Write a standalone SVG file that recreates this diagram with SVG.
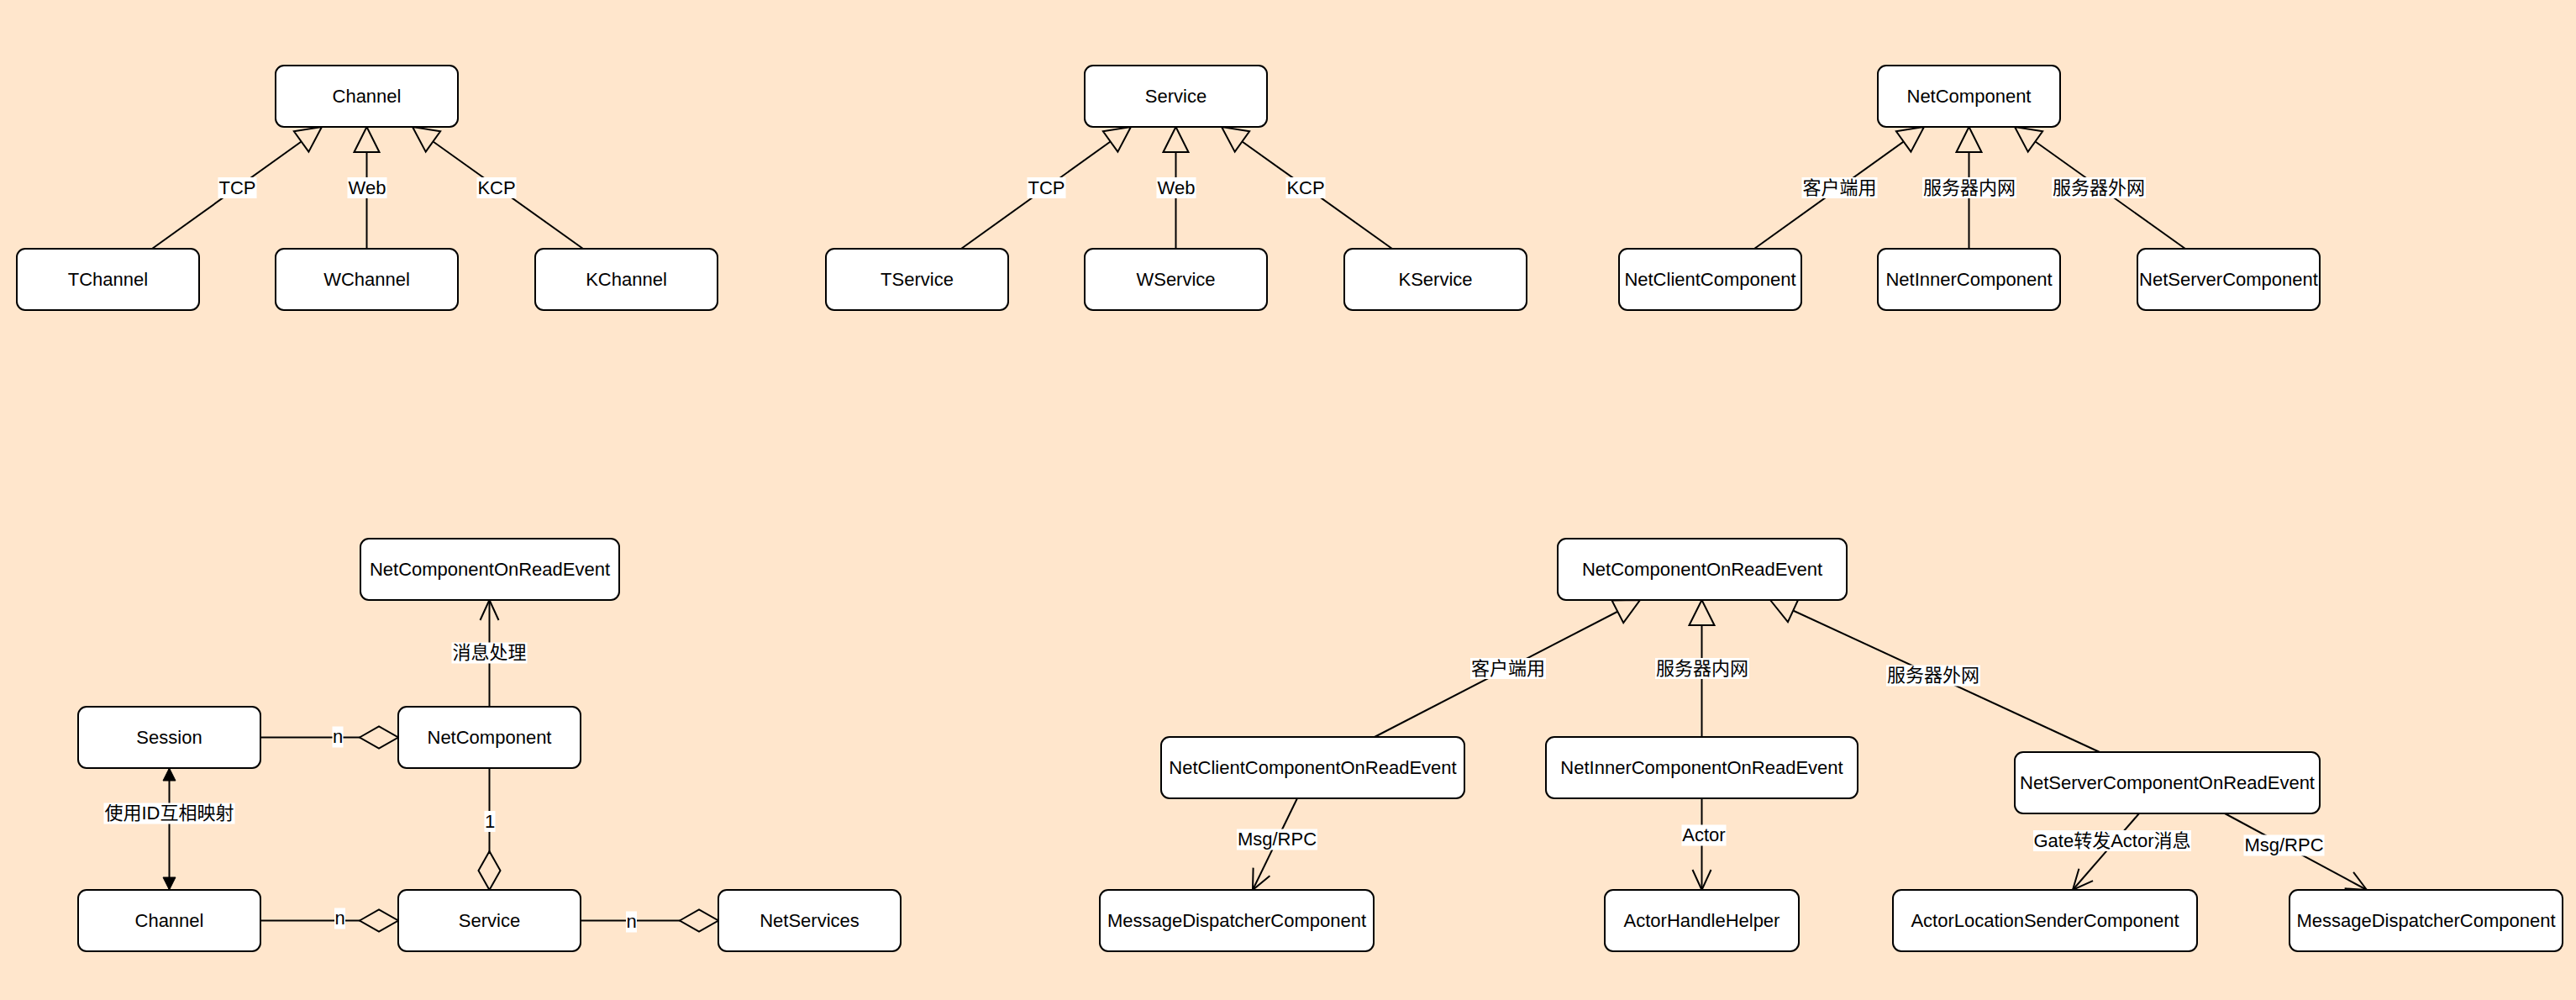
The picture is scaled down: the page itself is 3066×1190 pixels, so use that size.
<svg xmlns="http://www.w3.org/2000/svg" width="3066" height="1190" viewBox="0 0 3066 1190">
<style>
.box{fill:#fff;stroke:#000;stroke-width:2}
.t{font-family:"Liberation Sans","Noto Sans CJK SC",sans-serif;font-size:22px;text-anchor:middle;fill:#000}
.lbg{fill:#fff}
.c{stroke:#000;stroke-width:2;fill:none}
.inh{marker-end:url(#inh)}
.open{marker-end:url(#open)}
.dia{marker-end:url(#dia)}
.both{marker-start:url(#fil);marker-end:url(#fil)}
</style>
<defs>
<marker id="inh" markerUnits="userSpaceOnUse" markerWidth="34" markerHeight="34" viewBox="-1 -1 34 34" refX="31" refY="16" orient="auto" overflow="visible"><path d="M1,1 L31,16 L1,31 Z" fill="#FFE6CC" stroke="#000" stroke-width="2"/></marker>
<marker id="open" markerUnits="userSpaceOnUse" markerWidth="30" markerHeight="30" viewBox="0 0 30 30" refX="25" refY="12" orient="auto" overflow="visible"><path d="M1,1 L25,12 L1,23" fill="none" stroke="#000" stroke-width="2"/></marker>
<marker id="dia" markerUnits="userSpaceOnUse" markerWidth="50" markerHeight="30" viewBox="0 0 50 30" refX="47" refY="14" orient="auto" overflow="visible"><path d="M1,14 L24,1 L47,14 L24,27 Z" fill="#FFE6CC" stroke="#000" stroke-width="2"/></marker>
<marker id="fil" markerUnits="userSpaceOnUse" markerWidth="16" markerHeight="16" viewBox="0 0 16 16" refX="15" refY="7.5" orient="auto-start-reverse" overflow="visible"><path d="M0,0 L15,7.5 L0,15 Z" fill="#000" stroke="#000" stroke-width="1"/></marker>
</defs>
<rect x="0" y="0" width="3066" height="1190" fill="#FFE6CC"/>

<g id="connectors">
<line class="c inh" x1="181" y1="296" x2="383" y2="151"/>
<line class="c inh" x1="436.5" y1="296" x2="436.5" y2="151"/>
<line class="c inh" x1="694" y1="296" x2="491" y2="151"/>
<line class="c inh" x1="1144" y1="296" x2="1346" y2="151"/>
<line class="c inh" x1="1399.5" y1="296" x2="1399.5" y2="151"/>
<line class="c inh" x1="1657" y1="296" x2="1454" y2="151"/>
<line class="c inh" x1="2088" y1="296" x2="2290" y2="151"/>
<line class="c inh" x1="2343.5" y1="296" x2="2343.5" y2="151"/>
<line class="c inh" x1="2601" y1="296" x2="2398" y2="151"/>

<line class="c open" x1="582.5" y1="841" x2="582.5" y2="714"/>
<line class="c dia" x1="310" y1="877.5" x2="474" y2="877.5"/>
<line class="c both" x1="201.5" y1="914" x2="201.5" y2="1059"/>
<line class="c dia" x1="582.5" y1="914" x2="582.5" y2="1059"/>
<line class="c dia" x1="310" y1="1095.5" x2="474" y2="1095.5"/>
<line class="c dia" x1="691" y1="1095.5" x2="855" y2="1095.5"/>

<line class="c inh" x1="1636" y1="877" x2="1952" y2="714"/>
<line class="c inh" x1="2025.5" y1="877" x2="2025.5" y2="714"/>
<line class="c inh" x1="2499" y1="895" x2="2107" y2="714"/>
<line class="c open" x1="1544" y1="950" x2="1491" y2="1059"/>
<line class="c open" x1="2025.5" y1="950" x2="2025.5" y2="1059"/>
<line class="c open" x1="2546" y1="968" x2="2467" y2="1059"/>
<line class="c open" x1="2648" y1="968" x2="2817" y2="1059"/>

<g id="labels">
<rect class="lbg" x="259.5" y="211" width="46" height="25"/><text class="t" x="282.5" y="230.5">TCP</text>
<rect class="lbg" x="413.5" y="211" width="47" height="25"/><text class="t" x="437" y="230.5">Web</text>
<rect class="lbg" x="567.5" y="211" width="47" height="25"/><text class="t" x="591" y="230.5">KCP</text>
<rect class="lbg" x="1222.5" y="211" width="46" height="25"/><text class="t" x="1245.5" y="230.5">TCP</text>
<rect class="lbg" x="1376.5" y="211" width="47" height="25"/><text class="t" x="1400" y="230.5">Web</text>
<rect class="lbg" x="1530.5" y="211" width="47" height="25"/><text class="t" x="1554" y="230.5">KCP</text>
<rect class="lbg" x="2144.5" y="211" width="90" height="25"/><text class="t" x="2189.5" y="230.5">客户端用</text>
<rect class="lbg" x="2288" y="211" width="112" height="25"/><text class="t" x="2344" y="230.5">服务器内网</text>
<rect class="lbg" x="2442" y="211" width="112" height="25"/><text class="t" x="2498" y="230.5">服务器外网</text>

<rect class="lbg" x="537.5" y="764.5" width="90" height="25"/><text class="t" x="582.5" y="784">消息处理</text>
<rect class="lbg" x="395.5" y="864.5" width="13" height="25"/><text class="t" x="402" y="884">n</text>
<rect class="lbg" x="123.5" y="955.5" width="156" height="25"/><text class="t" x="201.5" y="975">使用ID互相映射</text>
<rect class="lbg" x="576.5" y="965" width="13" height="25"/><text class="t" x="583" y="984.5">1</text>
<rect class="lbg" x="398" y="1080.5" width="13" height="25"/><text class="t" x="404.5" y="1100">n</text>
<rect class="lbg" x="745" y="1084.5" width="13" height="25"/><text class="t" x="751.5" y="1104">n</text>

<rect class="lbg" x="1750" y="783" width="90" height="25"/><text class="t" x="1795" y="802.5">客户端用</text>
<rect class="lbg" x="1970" y="783" width="112" height="25"/><text class="t" x="2026" y="802.5">服务器内网</text>
<rect class="lbg" x="2245" y="791.5" width="112" height="25"/><text class="t" x="2301" y="811">服务器外网</text>
<rect class="lbg" x="1472" y="986.5" width="96" height="25"/><text class="t" x="1520" y="1006">Msg/RPC</text>
<rect class="lbg" x="2001.5" y="981.5" width="53" height="25"/><text class="t" x="2028" y="1001">Actor</text>
<rect class="lbg" x="2420" y="988" width="188" height="25"/><text class="t" x="2514" y="1007.5">Gate转发Actor消息</text>
<rect class="lbg" x="2670.5" y="993.5" width="96" height="25"/><text class="t" x="2718.5" y="1013">Msg/RPC</text>
</g>
</g>

<g id="n_channel"><rect class="box" x="328" y="78" width="217" height="73" rx="10"/><text class="t" x="436.5" y="121.5">Channel</text></g>
<g id="n_tchannel"><rect class="box" x="20" y="296" width="217" height="73" rx="10"/><text class="t" x="128.5" y="339.5">TChannel</text></g>
<g id="n_wchannel"><rect class="box" x="328" y="296" width="217" height="73" rx="10"/><text class="t" x="436.5" y="339.5">WChannel</text></g>
<g id="n_kchannel"><rect class="box" x="637" y="296" width="217" height="73" rx="10"/><text class="t" x="745.5" y="339.5">KChannel</text></g>

<g id="n_service"><rect class="box" x="1291" y="78" width="217" height="73" rx="10"/><text class="t" x="1399.5" y="121.5">Service</text></g>
<g id="n_tservice"><rect class="box" x="983" y="296" width="217" height="73" rx="10"/><text class="t" x="1091.5" y="339.5">TService</text></g>
<g id="n_wservice"><rect class="box" x="1291" y="296" width="217" height="73" rx="10"/><text class="t" x="1399.5" y="339.5">WService</text></g>
<g id="n_kservice"><rect class="box" x="1600" y="296" width="217" height="73" rx="10"/><text class="t" x="1708.5" y="339.5">KService</text></g>

<g id="n_netcomponent"><rect class="box" x="2235" y="78" width="217" height="73" rx="10"/><text class="t" x="2343.5" y="121.5">NetComponent</text></g>
<g id="n_netclientcomponent"><rect class="box" x="1927" y="296" width="217" height="73" rx="10"/><text class="t" x="2035.5" y="339.5">NetClientComponent</text></g>
<g id="n_netinnercomponent"><rect class="box" x="2235" y="296" width="217" height="73" rx="10"/><text class="t" x="2343.5" y="339.5">NetInnerComponent</text></g>
<g id="n_netservercomponent"><rect class="box" x="2544" y="296" width="217" height="73" rx="10"/><text class="t" x="2652.5" y="339.5">NetServerComponent</text></g>

<g id="n_onread_left"><rect class="box" x="429" y="641" width="308" height="73" rx="10"/><text class="t" x="583" y="684.5">NetComponentOnReadEvent</text></g>
<g id="n_session"><rect class="box" x="93" y="841" width="217" height="73" rx="10"/><text class="t" x="201.5" y="884.5">Session</text></g>
<g id="n_netcomponent2"><rect class="box" x="474" y="841" width="217" height="73" rx="10"/><text class="t" x="582.5" y="884.5">NetComponent</text></g>
<g id="n_channel2"><rect class="box" x="93" y="1059" width="217" height="73" rx="10"/><text class="t" x="201.5" y="1102.5">Channel</text></g>
<g id="n_service2"><rect class="box" x="474" y="1059" width="217" height="73" rx="10"/><text class="t" x="582.5" y="1102.5">Service</text></g>
<g id="n_netservices"><rect class="box" x="855" y="1059" width="217" height="73" rx="10"/><text class="t" x="963.5" y="1102.5">NetServices</text></g>

<g id="n_onread_right"><rect class="box" x="1854" y="641" width="344" height="73" rx="10"/><text class="t" x="2026" y="684.5">NetComponentOnReadEvent</text></g>
<g id="n_clientonread"><rect class="box" x="1382" y="877" width="361" height="73" rx="10"/><text class="t" x="1562.5" y="920.5">NetClientComponentOnReadEvent</text></g>
<g id="n_inneronread"><rect class="box" x="1840" y="877" width="371" height="73" rx="10"/><text class="t" x="2025.5" y="920.5">NetInnerComponentOnReadEvent</text></g>
<g id="n_serveronread"><rect class="box" x="2398" y="895" width="363" height="73" rx="10"/><text class="t" x="2579.5" y="938.5">NetServerComponentOnReadEvent</text></g>
<g id="n_msgdispatcher1"><rect class="box" x="1309" y="1059" width="326" height="73" rx="10"/><text class="t" x="1472" y="1102.5">MessageDispatcherComponent</text></g>
<g id="n_actorhandlehelper"><rect class="box" x="1910" y="1059" width="231" height="73" rx="10"/><text class="t" x="2025.5" y="1102.5">ActorHandleHelper</text></g>
<g id="n_actorlocationsender"><rect class="box" x="2253" y="1059" width="362" height="73" rx="10"/><text class="t" x="2434" y="1102.5">ActorLocationSenderComponent</text></g>
<g id="n_msgdispatcher2"><rect class="box" x="2725" y="1059" width="325" height="73" rx="10"/><text class="t" x="2887.5" y="1102.5">MessageDispatcherComponent</text></g>
</svg>
